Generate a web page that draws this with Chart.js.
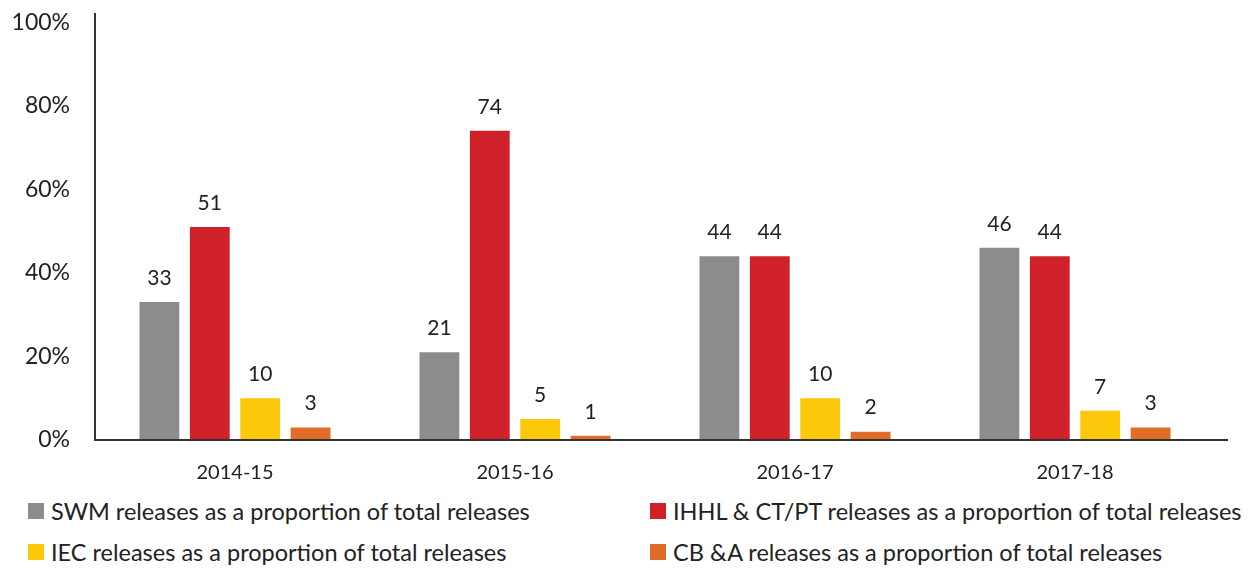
<!DOCTYPE html>
<html>
<head>
<meta charset="utf-8">
<script src="https://cdn.jsdelivr.net/npm/chart.js@4"></script>
<style>
  body { margin: 0; background: #fff; font-family: Lato, sans-serif; }
  #wrap { position: relative; width: 1249px; height: 490px; }
  #legend { position: relative; width: 1249px; height: 80px; color: #222; font-size: 23.5px; }
  .item { position: absolute; display: flex; align-items: center; white-space: nowrap; }
  .box { width: 16px; height: 16px; margin-right: 7px; }
</style>
</head>
<body>
<div id="wrap"><canvas id="chart"></canvas></div>
<div id="legend"></div>
<script>
const years = ['2014-15', '2015-16', '2016-17', '2017-18'];
const seriesNames = [
    'SWM releases as a proportion of total releases',
    'IHHL & CT/PT releases as a proportion of total releases',
    'IEC releases as a proportion of total releases',
    'CB &A releases as a proportion of total releases'
];
const swm = [33, 21, 44, 46];
const ihhl = [51, 74, 44, 44];
const iec = [10, 5, 10, 7];
const cba = [3, 1, 2, 3];
const yTicks = [0, 20, 40, 60, 80, 100];
const colors = ['#8c8c8e', '#d0202a', '#fcc90a', '#e06c27'];

const allSeries = [swm, ihhl, iec, cba];

// value labels above each bar
const valueLabels = {
    id: 'valueLabels',
    afterDatasetsDraw(chart) {
        const ctx = chart.ctx;
        ctx.save();
        ctx.font = '21px Lato';
        ctx.fillStyle = '#222';
        ctx.textAlign = 'center';
        ctx.textBaseline = 'middle';
        chart.data.datasets.forEach((ds, i) => {
            chart.getDatasetMeta(i).data.forEach((bar, j) => {
                ctx.fillText(ds.data[j], bar.x, bar.y - 24);
            });
        });
        ctx.restore();
    }
};

// x axis line runs a bit past the last group
const axisExtend = {
    id: 'axisExtend',
    afterDraw(chart) {
        const a = chart.chartArea, ctx = chart.ctx;
        ctx.save();
        ctx.strokeStyle = '#333';
        ctx.lineWidth = 2;
        ctx.beginPath();
        ctx.moveTo(a.left, a.bottom);
        ctx.lineTo(a.right + 13, a.bottom);
        ctx.stroke();
        ctx.restore();
    }
};

new Chart(document.getElementById('chart'), {
    type: 'bar',
    data: {
        labels: years,
        datasets: allSeries.map((d, i) => ({
            label: seriesNames[i],
            data: d,
            backgroundColor: colors[i],
            categoryPercentage: 0.72,
            barPercentage: 0.79
        }))
    },
    options: {
        responsive: true,
        maintainAspectRatio: false,
        animation: false,
        layout: { padding: { top: 13, right: 34, bottom: 0, left: 0 } },
        plugins: { legend: { display: false }, tooltip: { enabled: false } },
        scales: {
            x: {
                afterFit: s => { s.height = 50; },
                grid: { display: false, drawTicks: false },
                border: { display: true, color: '#333', width: 2 },
                ticks: { color: '#222', font: { family: 'Lato', size: 20 }, padding: 21 }
            },
            y: {
                min: 0,
                max: 102,
                afterBuildTicks: s => { s.ticks = yTicks.map(v => ({ value: v })); },
                afterFit: s => { s.width = 95; },
                grid: { display: true, drawOnChartArea: false, drawTicks: true, tickLength: 25, color: 'rgba(0,0,0,0)' },
                border: { display: true, color: '#333', width: 2 },
                ticks: { color: '#222', font: { family: 'Lato', size: 23 }, padding: 0, callback: v => v + '%' }
            }
        }
    },
    plugins: [valueLabels, axisExtend]
});

// legend in two columns
const legend = document.getElementById('legend');
const spots = [[28, 7], [650, 7], [28, 48], [650, 48]];
seriesNames.forEach((name, i) => {
    const el = document.createElement('div');
    el.className = 'item';
    el.style.left = spots[i][0] + 'px';
    el.style.top = spots[i][1] + 'px';
    el.innerHTML = '<span class="box" style="background:' + colors[i] + '"></span>';
    el.appendChild(document.createTextNode(name));
    legend.appendChild(el);
});
</script>
</body>
</html>
